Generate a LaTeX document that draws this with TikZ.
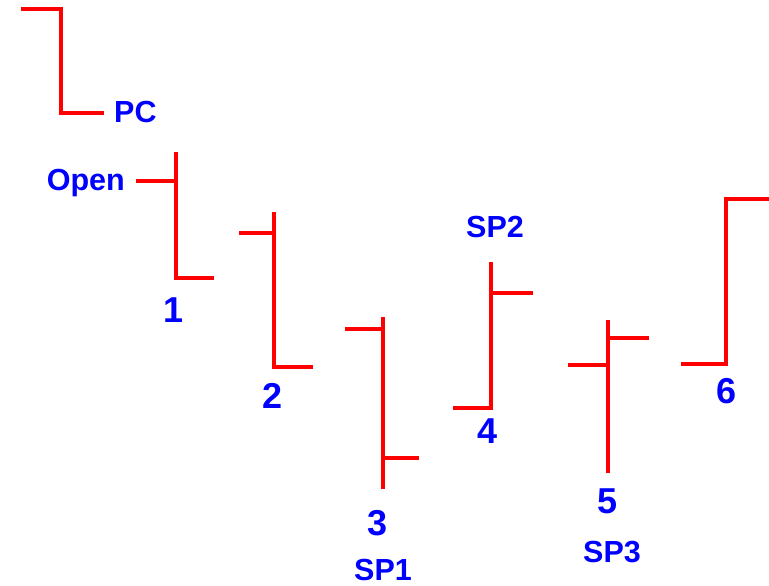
\documentclass[tikz,border=0pt]{standalone}
\usepackage{fontspec}
\setmainfont{Liberation Sans}
\definecolor{barred}{RGB}{255,0,0}
\definecolor{labblue}{RGB}{0,0,255}
\begin{document}
\begin{tikzpicture}[x=1pt,y=-1pt,
  bar/.style={draw=barred,line width=3.6pt,line cap=butt,line join=miter},
  lab/.style={text=labblue,font=\bfseries\fontsize{30.5}{32}\selectfont,inner sep=0pt},
  num/.style={text=labblue,font=\bfseries\fontsize{36}{38}\selectfont,inner sep=0pt,anchor=base}]
\useasboundingbox (0,0) rectangle (769,586);
% bar PC
\coordinate (pcA) at (21,9);   \coordinate (pcB) at (61,9);
\coordinate (pcC) at (61,113); \coordinate (pcD) at (104,113);
\draw[bar] (pcA) -- (pcB) -- (pcC) -- (pcD);
% bar 1
\coordinate (b1t) at (176,152); \coordinate (b1b) at (176,278);
\coordinate (b1o) at (136,181); \coordinate (b1oo) at (176,181);
\coordinate (b1c) at (214,278);
\draw[bar] (b1t) -- (b1b) -- (b1c);
\draw[bar] (b1o) -- (b1oo);
% bar 2
\coordinate (b2t) at (274,212); \coordinate (b2b) at (274,367);
\coordinate (b2o) at (239,233); \coordinate (b2oo) at (274,233);
\coordinate (b2c) at (313,367);
\draw[bar] (b2t) -- (b2b) -- (b2c);
\draw[bar] (b2o) -- (b2oo);
% bar 3
\coordinate (b3t) at (383,317); \coordinate (b3b) at (383,489);
\coordinate (b3o) at (345,329); \coordinate (b3oo) at (383,329);
\coordinate (b3cc) at (383,458); \coordinate (b3c) at (419,458);
\draw[bar] (b3t) -- (b3b);
\draw[bar] (b3o) -- (b3oo);
\draw[bar] (b3cc) -- (b3c);
% bar 4
\coordinate (b4t) at (491,262); \coordinate (b4b) at (491,408);
\coordinate (b4o) at (453,408);
\coordinate (b4cc) at (491,293); \coordinate (b4c) at (533,293);
\draw[bar] (b4t) -- (b4b) -- (b4o);
\draw[bar] (b4cc) -- (b4c);
% bar 5
\coordinate (b5t) at (608,320); \coordinate (b5b) at (608,473);
\coordinate (b5o) at (568,365); \coordinate (b5oo) at (608,365);
\coordinate (b5cc) at (608,338); \coordinate (b5c) at (649,338);
\draw[bar] (b5t) -- (b5b);
\draw[bar] (b5o) -- (b5oo);
\draw[bar] (b5cc) -- (b5c);
% bar 6
\coordinate (b6o) at (681,364); \coordinate (b6b) at (726,364);
\coordinate (b6t) at (726,199); \coordinate (b6c) at (771,199);
\draw[bar] (b6o) -- (b6b) -- (b6t) -- (b6c);
% labels
\node[lab,anchor=base west] (pc) at (114,122) {PC};
\node[lab,anchor=base east] (open) at (125,190) {Open};
\node[num] (n1) at (174,322) {1};
\node[num] (n2) at (273,408) {2};
\node[num] (n3) at (378,535) {3};
\node[num] (n4) at (488,443) {4};
\node[num] (n5) at (608,513) {5};
\node[num] (n6) at (727,403) {6};
\node[lab,anchor=base] (sp1) at (383,580) {SP1};
\node[lab,anchor=base] (sp2) at (495,237) {SP2};
\node[lab,anchor=base] (sp3) at (612,562) {SP3};
\end{tikzpicture}
\end{document}
